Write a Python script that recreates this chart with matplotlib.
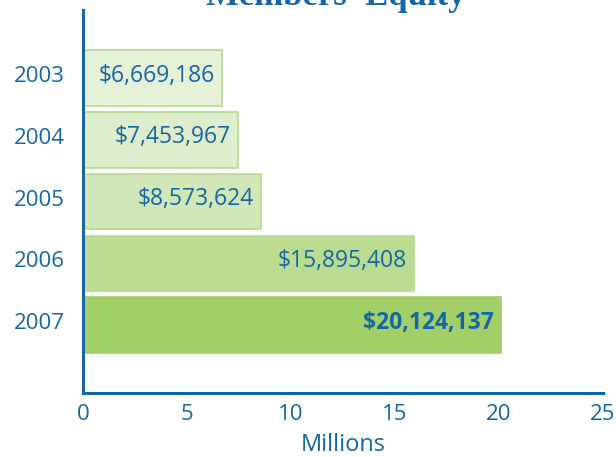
import matplotlib
matplotlib.use('Agg')
import matplotlib.pyplot as plt
from matplotlib.transforms import ScaledTranslation

# 数据
years = ['2003', '2004', '2005', '2006', '2007']
equity = [6669186, 7453967, 8573624, 15895408, 20124137]
labels = ['$6,669,186', '$7,453,967', '$8,573,624', '$15,895,408', '$20,124,137']
fills = ['#e6f2d8', '#deedcb', '#d2e7b7', '#badb90', '#a2cf68']
edges = ['#b6da8f', '#b6da8f', '#b6da8f', '#b6da8f', '#a2cf68']

blue = '#1566a7'
plt.rcParams['font.family'] = ['Open Sans', 'DejaVu Sans']

fig = plt.figure(figsize=(6.16, 4.57), dpi=100)
ax = fig.add_axes([0.1347, 0.140, 0.844, 0.838])

millions = [v / 1e6 for v in equity]
pos = list(range(len(years)))
ax.barh(pos, millions, height=0.9, color=fills, edgecolor=edges, linewidth=1.2)

for i, (m, lab) in enumerate(zip(millions, labels)):
    ax.text(m - 0.35, i - 0.04, lab, ha='right', va='center', color=blue, fontsize=16.5,
            fontweight='bold' if i == len(years) - 1 else 'normal')

ax.set_xlim(0, 25)
ax.set_ylim(5.1, -1.1)
ax.set_xticks([0, 5, 10, 15, 20, 25])
ax.set_yticks(pos)
ax.set_yticklabels(years)
ax.tick_params(length=0, labelsize=16, labelcolor=blue, pad=8)
ax.tick_params(axis='y', pad=13)
# 年份标签略微上移
shift = ScaledTranslation(0, 4 / 100, fig.dpi_scale_trans)
for t in ax.get_yticklabels():
    t.set_transform(t.get_transform() + shift)
ax.set_xlabel('Millions', color=blue, fontsize=17, labelpad=6)

for s in ['top', 'right']:
    ax.spines[s].set_visible(False)
for s in ['left', 'bottom']:
    ax.spines[s].set_color(blue)
    ax.spines[s].set_linewidth(2.2)

fig.text(0.545, 0.988, "Members' Equity", ha='center', va='baseline', color=blue,
         fontsize=25, fontweight='bold', family='Liberation Serif')

fig.savefig('out.png', dpi=100)
